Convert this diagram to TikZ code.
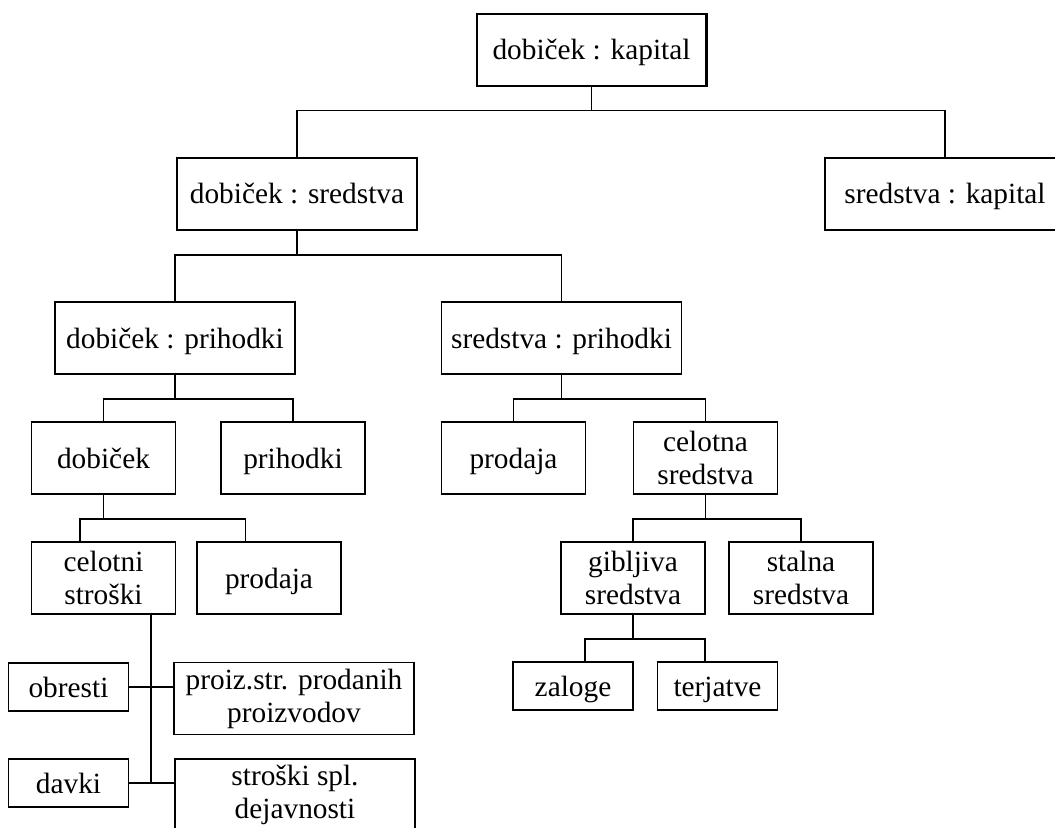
\documentclass[tikz,border=0pt]{standalone}
\usepackage{fontspec}
\setmainfont{Liberation Serif}
\begin{document}
\begin{tikzpicture}[x=0.75pt,y=-0.75pt]

  % Definitions
  \tikzstyle{Box} = [rectangle, draw=black, line width=1.2pt, inner sep=0pt, align=center, minimum height=54pt, text height=16pt, text depth=1pt, font=\fontsize{22}{24.75}\selectfont]
  \tikzstyle{Two} = [text height=, text depth=]
  \tikzstyle{Low} = [minimum height=36pt]
  \tikzstyle{Wide} = [minimum width=180pt]
  \tikzstyle{Mid} = [minimum width=108pt]
  \tikzstyle{Narrow} = [minimum width=90pt]
  \tikzstyle{line} = [line width=1.2pt]

  \useasboundingbox (0,0) rectangle (1055,827);

  \node (DK) [Box, line width=2pt, minimum width=172pt] at (591.5,50) {dobiček : kapital};
  \node (DS) [Box, Wide] at (297,194) {dobiček : sredstva};
  \node (SK) [Box, Wide] at (945,194) {sredstva : kapital};

  \node (DP) [Box, Wide] at (175,338) {dobiček : prihodki};
  \node (SP) [Box, Wide] at (561.5,338) {sredstva : prihodki};

  \node (D) [Box, Mid] at (103.5,458) {dobiček};
  \node (P) [Box, Mid] at (293,458) {prihodki};
  \node (Pr1) [Box, Mid] at (513.5,458) {prodaja};
  \node (CS) [Box, Two, Mid] at (705.5,458) {celotna\\sredstva};

  \node (CSt) [Box, Two, Mid] at (103.5,578) {celotni\\stroški};
  \node (Pr2) [Box, Mid] at (269,578) {prodaja};
  \node (GS) [Box, Two, Mid] at (633,578) {gibljiva\\sredstva};
  \node (StS) [Box, Two, Mid] at (801,578) {stalna\\sredstva};

  \node (Ob) [Box, Narrow, Low] at (68.5,687) {obresti};
  \node (PSP) [Box, Two, Wide] at (294,698.5) {proiz.str. prodanih\\proizvodov};
  \node (Dv) [Box, Narrow, Low] at (68.5,783) {davki};
  \node (SSD) [Box, Two, Wide] at (295,795) {stroški spl.\\dejavnosti};
  \node (Zl) [Box, Narrow, Low] at (573,686) {zaloge};
  \node (Tj) [Box, Narrow, Low] at (717.5,686) {terjatve};

  \draw [line] (DK.south) -- ++(0,23) coordinate (J1);
  \draw [line] (DS.north) |- (J1) -| (SK.north);

  \draw [line] (DS.south) -- ++(0,24) coordinate (J2);
  \draw [line] (DP.north) |- (J2) -| (SP.north);

  \draw [line] (DP.south) -- ++(0,24) coordinate (J3);
  \draw [line] (D.north) |- (J3) -| (P.north);

  \draw [line] (SP.south) -- ++(0,24) coordinate (J4);
  \draw [line] (Pr1.north) |- (J4) -| (CS.north);

  \draw [line] (D.south) -- ++(0,24) coordinate (J5);
  \draw [line] ([xshift=-17.5pt]CSt.north) |- (J5) -| ([xshift=-17.5pt]Pr2.north);

  \draw [line] (CS.south) -- ++(0,24) coordinate (J6);
  \draw [line] (GS.north) |- (J6) -| (StS.north);

  \draw [line] (GS.south) -- ++(0,24) coordinate (J7);
  \draw [line] ([xshift=9pt]Zl.north) |- (J7) -| ([xshift=-9.4pt]Tj.north);

  \draw [line] ([xshift=35.6pt]CSt.south) coordinate (T) -- (T |- Dv.east);
  \draw [line] (Ob.east) -- (PSP.west |- Ob.east);
  \draw [line] (Dv.east) -- (SSD.west |- Dv.east);

\end{tikzpicture}
\end{document}
